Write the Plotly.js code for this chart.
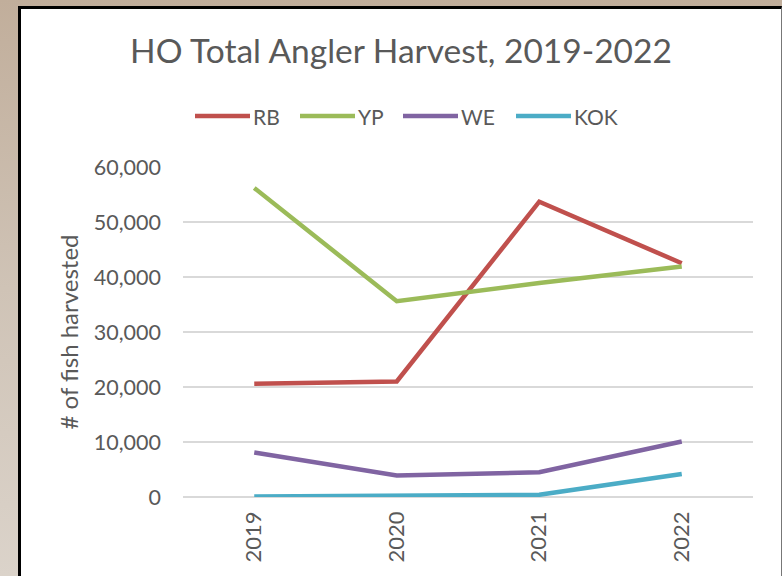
<!DOCTYPE html>
<html>
<head>
<meta charset="utf-8">
<script src="https://cdn.plot.ly/plotly-3.0.1.min.js"></script>
<style>
  html, body { margin: 0; padding: 0; width: 782px; height: 576px; overflow: hidden;
    background: linear-gradient(to bottom, #c1ae9b 0%, #cfc3b6 50%, #dbd3ca 100%); }
  #frame { position: absolute; left: 18px; top: 6px; width: 760px; height: 570px;
    border-left: 3px solid #000; border-top: 3px solid #000; border-right: 1px solid #777;
    background: #fff; overflow: hidden; }
  #chart { width: 760px; height: 570px; }
</style>
</head>
<body>
<div id="frame"><div id="chart"></div></div>
<script>
// ---- data ----
const years = ["2019", "2020", "2021", "2022"];
const seriesNames = ["RB", "YP", "WE", "KOK"];
const rb  = [20600, 21000, 53700, 42500];
const yp  = [56200, 35600, 38900, 41900];
const we  = [8100, 3900, 4500, 10100];
const kok = [100, 200, 400, 4200];
const seriesColors = ["#C0504D", "#9BBB59", "#8064A2", "#4BACC6"];
const seriesValues = [rb, yp, we, kok];

// ---- layout constants (px, relative to chart div) ----
const W = 760, H = 570;
const mL = 162, mR = 28, mT = 158, mB = 82;
const plotW = W - mL - mR, plotH = H - mT - mB;
const fontFam = "Lato, 'Open Sans', sans-serif";
const txt = "#595959";

const traces = seriesNames.map((n, i) => ({
  type: "scatter", mode: "lines", name: n,
  x: years, y: seriesValues[i],
  line: { color: seriesColors[i], width: 4.5 },
  showlegend: false, hoverinfo: "skip"
}));

// custom legend (page x positions converted to paper coords)
const legLineStart = [195, 300, 403, 516];
const legLineLen = 55;
const legY = 116;
const originX = 21, originY = 9;
const toPX = px => (px - originX - mL) / plotW;
const toPY = py => (plotH - (py - originY - mT)) / plotH;
const shapes = [], annotations = [];
seriesNames.forEach((n, i) => {
  shapes.push({ type: "line", xref: "paper", yref: "paper",
    x0: toPX(legLineStart[i]), x1: toPX(legLineStart[i] + legLineLen),
    y0: toPY(legY), y1: toPY(legY),
    line: { color: seriesColors[i], width: 4.5 } });
  annotations.push({ xref: "paper", yref: "paper", x: toPX(legLineStart[i] + legLineLen + 1),
    y: toPY(legY), xanchor: "left", yanchor: "middle", showarrow: false,
    text: n, font: { family: fontFam, size: 21, color: txt } });
});

const layout = {
  width: W, height: H,
  margin: { l: mL, r: mR, t: mT, b: mB },
  paper_bgcolor: "#ffffff", plot_bgcolor: "#ffffff",
  font: { family: fontFam, color: txt },
  title: { text: "HO Total Angler Harvest, 2019-2022", x: 0.5, xref: "container",
    y: 1 - 42 / H, yref: "container", yanchor: "middle",
    font: { family: fontFam, size: 33.5, color: txt } },
  xaxis: { type: "category", range: [-0.5, 3.5], showgrid: false, zeroline: false,
    showline: false, ticks: "", tickangle: -90,
    tickfont: { family: fontFam, size: 22, color: txt }, ticklabelstandoff: 9 },
  yaxis: { range: [0, 60000], dtick: 10000, tickformat: ",d", showgrid: true,
    gridcolor: "#d9d9d9", gridwidth: 1.5, zeroline: true, zerolinecolor: "#d9d9d9",
    zerolinewidth: 1.5, showline: false, ticks: "", ticklabelstandoff: 21,
    tickfont: { family: fontFam, size: 21.5, color: txt },
    title: { text: "# of fish harvested", standoff: 8,
      font: { family: fontFam, size: 24, color: txt } } },
  shapes: shapes, annotations: annotations,
  showlegend: false
};

Plotly.newPlot("chart", traces, layout, { displayModeBar: false, staticPlot: true });
</script>
</body>
</html>
